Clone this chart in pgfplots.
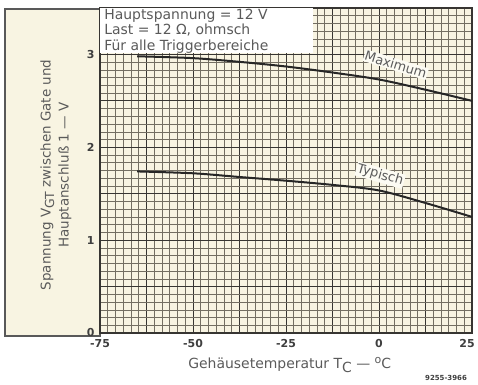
\documentclass[border=0pt]{standalone}
\usepackage{pgfplots}
\pgfplotsset{compat=1.18}
\usepackage{fontspec}
\setmainfont{DejaVu Sans}
\definecolor{cream}{RGB}{248,244,226}
\definecolor{gridmin}{RGB}{115,110,98}
\definecolor{gridmaj}{RGB}{55,53,50}
\definecolor{txt}{RGB}{90,90,90}
\begin{document}
\begin{tikzpicture}
\path[use as bounding box] (0,0) rectangle (478bp,385bp);
\fill[cream] (5bp,49bp) rectangle (100bp,376bp);
\draw[gray!70!black, line width=1.2bp] (5bp,49bp) rectangle (100bp,376bp);
\node[rotate=90, align=center, text=txt, font=\fontsize{13.5}{18}\selectfont] at (56bp,210bp)
  {Spannung V\raisebox{-0.45ex}{\fontsize{12.5}{12.5}\selectfont GT} zwischen Gate und\\Hauptanschluß 1 --- V};
\begin{axis}[
  at={(100bp,52bp)}, anchor=south west, scale only axis,
  width=372bp, height=325bp,
  xmin=-75, xmax=25, ymin=0, ymax=3.5,
  xtick={-75,-62.5,...,25}, xticklabels={-75,,-50,,-25,,0,,{\kern-10bp 25}},
  ytick={0,0.5,...,3.5}, yticklabels={0,,1,,2,,3,,},
  minor x tick num=5, minor y tick num=5,
  grid=both,
  minor grid style={gridmin, line width=0.55bp},
  major grid style={gridmaj, line width=1bp},
  major tick length=0pt, minor tick length=0pt,
  axis line style={gridmaj, line width=1.2bp},
  axis background/.style={fill=cream},
  ticklabel style={font=\bfseries\fontsize{11}{11}\selectfont, text=txt!70!black},
  xticklabel style={yshift=-3bp},
  yticklabel style={xshift=-2bp},
  xlabel={Gehäusetemperatur T\raisebox{-0.45ex}{C} --- \raisebox{0.7ex}{\fontsize{11}{11}\selectfont o}C},
  xlabel style={at={(axis description cs:0.51,0)}, anchor=center, yshift=-32bp,
    font=\fontsize{14}{15}\selectfont, text=txt},
  clip=false,
]
\fill[white] (axis cs:-75,3.02) rectangle (axis cs:-17.7,3.5);
\node[anchor=north west, align=left, text=txt, font=\fontsize{14}{15.5}\selectfont, inner sep=0pt]
  at (axis cs:-73.9,3.49) {Hauptspannung = 12 V\\Last = 12 Ω, ohmsch\\Für alle Triggerbereiche};
\addplot[black!85, line width=2bp, smooth] coordinates
  {(-65,2.98) (-50,2.96) (-37.5,2.92) (-25,2.87) (-12.5,2.805) (0,2.73) (12.5,2.62) (25,2.50)};
\addplot[black!85, line width=2bp, smooth] coordinates
  {(-65,1.74) (-50,1.72) (-37.5,1.68) (-25,1.64) (-12.5,1.595) (0,1.535) (12.5,1.40) (25,1.25)};
\node[rotate=-17, fill=white!60!cream, text=txt, font=\fontsize{13}{13}\selectfont, inner sep=1bp]
  at (axis cs:4.5,2.89) {Maximum};
\node[rotate=-16, fill=white!60!cream, text=txt, font=\fontsize{13}{13}\selectfont, inner sep=1bp]
  at (axis cs:0.3,1.70) {Typisch};
\end{axis}
\node[font=\bfseries\fontsize{7}{7}\selectfont, text=txt!70!black] at (446bp,7bp) {9255-3966};
\end{tikzpicture}
\end{document}
